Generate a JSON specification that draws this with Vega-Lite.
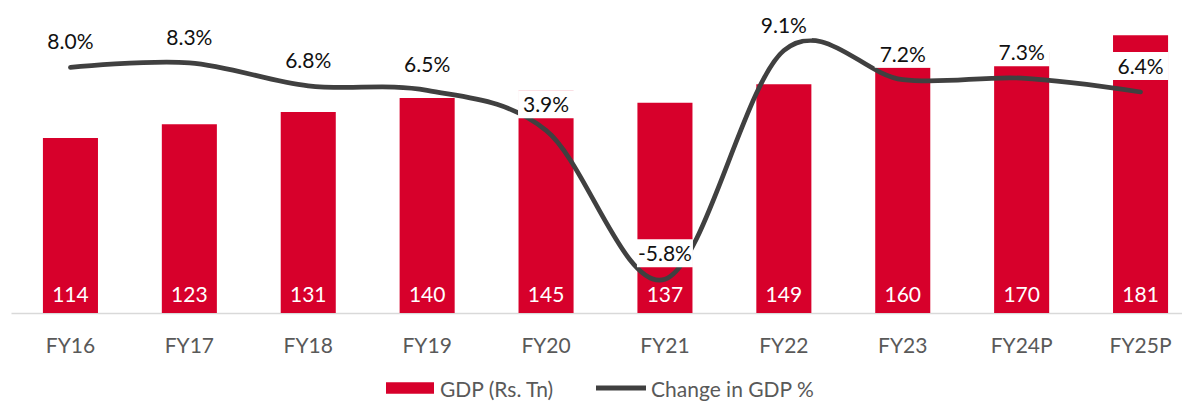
{
  "$schema": "https://vega.github.io/schema/vega-lite/v6.json",
  "width": 1171,
  "height": 307,
  "padding": {"left": 11, "top": 6, "right": 0, "bottom": 88},
  "autosize": {"type": "none"},
  "background": "white",
  "config": {
    "view": {"stroke": null},
    "font": "Lato",
    "locale": {"number": {"decimal": ".", "thousands": ",", "grouping": [3], "currency": ["$", ""], "minus": "-"}}
  },
  "data": {
    "values": [
      {"year": "FY16", "gdp": 114, "pct": 0.080},
      {"year": "FY17", "gdp": 123, "pct": 0.083},
      {"year": "FY18", "gdp": 131, "pct": 0.068},
      {"year": "FY19", "gdp": 140, "pct": 0.065},
      {"year": "FY20", "gdp": 145, "pct": 0.039},
      {"year": "FY21", "gdp": 137, "pct": -0.058},
      {"year": "FY22", "gdp": 149, "pct": 0.091},
      {"year": "FY23", "gdp": 160, "pct": 0.072},
      {"year": "FY24P", "gdp": 170, "pct": 0.073},
      {"year": "FY25P", "gdp": 181, "pct": 0.064}
    ]
  },
  "resolve": {"scale": {"y": "independent"}},
  "layer": [
    {
      "mark": {"type": "bar"},
      "encoding": {
        "x": {
          "field": "year", "type": "nominal", "sort": null,
          "scale": {"type": "band", "range": [0, 1189], "paddingInner": 0.537, "paddingOuter": 0.2685},
          "axis": {"title": null, "labelAngle": 0, "ticks": false, "domainColor": "#D9D9D9", "domainWidth": 1.5, "labelColor": "#595959", "labelFontSize": 21, "labelFont": "Lato", "labelPadding": 22, "grid": false}
        },
        "y": {"field": "gdp", "type": "quantitative", "scale": {"domain": [0, 200], "nice": false}, "axis": null},
        "color": {
          "datum": "GDP (Rs. Tn)",
          "scale": {"domain": ["GDP (Rs. Tn)", "Change in GDP %"], "range": ["#D7002B", "#404040"]},
          "legend": {
            "orient": "none", "legendX": 374, "legendY": 357, "direction": "horizontal", "title": null,
            "labelFontSize": 21, "labelColor": "#595959", "labelFont": "Lato", "labelLimit": 400,
            "symbolSize": 2500, "labelOffset": 5, "columnPadding": 41, "symbolStrokeWidth": 0,
            "encode": {
              "symbols": {"update": {
                "shape": {"signal": "datum.value === 'GDP (Rs. Tn)' ? 'M-0.96,-0.23H0.96V0.23H-0.96Z' : 'M-1,-0.1H1V0.1H-1Z'"},
                "fill": {"signal": "datum.value === 'GDP (Rs. Tn)' ? '#D7002B' : '#404040'"},
                "strokeWidth": {"value": 0}
              }},
              "labels": {"update": {"dy": {"value": 3}}}
            }
          }
        }
      }
    },
    {
      "mark": {"type": "text", "color": "white", "fontSize": 21, "baseline": "alphabetic", "dy": -11},
      "encoding": {
        "x": {"field": "year", "type": "nominal", "sort": null},
        "y": {"datum": 0, "type": "quantitative", "scale": {"domain": [0, 200], "nice": false}, "axis": null},
        "text": {"field": "gdp", "type": "quantitative"}
      }
    },
    {
      "mark": {"type": "line", "interpolate": "cardinal", "strokeWidth": 4.7, "strokeCap": "round"},
      "encoding": {
        "x": {"field": "year", "type": "nominal", "sort": null},
        "y": {"field": "pct", "type": "quantitative", "scale": {"domain": [-0.08, 0.12], "nice": false, "zero": false}, "axis": null},
        "color": {"datum": "Change in GDP %"}
      }
    },
    {
      "mark": {"type": "tick", "color": "white", "opacity": 1, "size": 56, "thickness": 28, "yOffset": -26},
      "encoding": {
        "x": {"field": "year", "type": "nominal", "sort": null},
        "y": {"field": "pct", "type": "quantitative", "scale": {"domain": [-0.08, 0.12], "nice": false, "zero": false}, "axis": null}
      }
    },
    {
      "mark": {"type": "text", "color": "#111111", "fontSize": 21, "baseline": "middle", "yOffset": -24},
      "encoding": {
        "x": {"field": "year", "type": "nominal", "sort": null},
        "y": {"field": "pct", "type": "quantitative", "scale": {"domain": [-0.08, 0.12], "nice": false, "zero": false}, "axis": null},
        "text": {"field": "pct", "type": "quantitative", "format": ".1%"}
      }
    }
  ]
}
